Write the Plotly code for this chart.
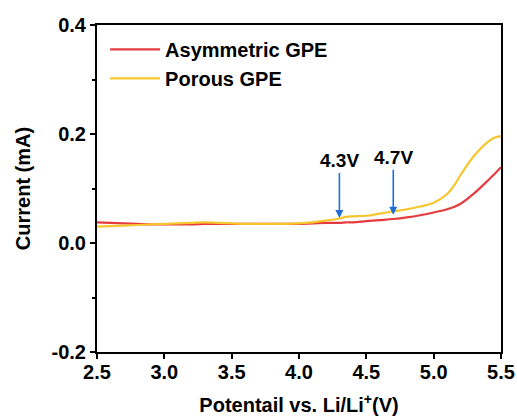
import plotly.graph_objects as go

potential = [2.5, 2.6, 2.7, 2.8, 2.9, 3.0, 3.1, 3.2, 3.3, 3.4, 3.5, 3.6, 3.7, 3.8, 3.9, 4.0,
             4.1, 4.2, 4.3, 4.35, 4.4, 4.5, 4.6, 4.7, 4.8, 4.9, 5.0, 5.1, 5.15, 5.2, 5.3, 5.4, 5.45, 5.5]
asym = [0.038, 0.037, 0.036, 0.035, 0.034, 0.034, 0.034, 0.034, 0.035, 0.035, 0.035, 0.035, 0.035, 0.035, 0.035, 0.035,
        0.036, 0.037, 0.037, 0.038, 0.038, 0.040, 0.042, 0.044, 0.047, 0.051, 0.056, 0.062, 0.066, 0.072, 0.091, 0.114, 0.126, 0.139]
porous = [0.030, 0.031, 0.032, 0.033, 0.034, 0.035, 0.036, 0.037, 0.038, 0.037, 0.036, 0.035, 0.035, 0.035, 0.035, 0.036,
          0.038, 0.041, 0.045, 0.048, 0.049, 0.050, 0.054, 0.058, 0.062, 0.067, 0.074, 0.090, 0.105, 0.125, 0.160, 0.185, 0.193, 0.196]

marks_x = [4.3, 4.7]
marks_y = [0.046, 0.052]
marks_text = ["4.3V", "4.7V"]

x_ticks = [2.5, 3.0, 3.5, 4.0, 4.5, 5.0, 5.5]
y_ticks = [-0.2, 0.0, 0.2, 0.4]

RED = "#E53B3F"
YEL = "#F6C62E"
FONT = "Liberation Sans, Arial, sans-serif"
FS = 20

fig = go.Figure()
fig.add_trace(go.Scatter(x=potential, y=asym, mode="lines", name="<b>Asymmetric GPE</b>",
                         line=dict(color=RED, width=2.2, shape="spline")))
fig.add_trace(go.Scatter(x=potential, y=porous, mode="lines", name="<b>Porous GPE</b>",
                         line=dict(color=YEL, width=2.2, shape="spline")))

for x, y, t in zip(marks_x, marks_y, marks_text):
    fig.add_annotation(x=x, y=y, xref="x", yref="y", text="<b>%s</b>" % t,
                       showarrow=True, arrowhead=2, arrowsize=1, arrowwidth=1.6,
                       arrowcolor="#1E6FD9", ax=0, ay=-57, standoff=0,
                       font=dict(family=FONT, size=19, color="black"))

axis_common = dict(showline=True, linecolor="black", linewidth=2, mirror=True,
                   ticks="outside", ticklen=5, tickwidth=2, tickcolor="black",
                   showgrid=False, zeroline=False,
                   tickfont=dict(family=FONT, size=FS, color="black"),
                   minor=dict(ticks="outside", ticklen=3, tickwidth=2, tickcolor="black", nticks=2))

fig.update_xaxes(range=[2.5, 5.5], tickvals=x_ticks,
                 ticktext=["<b>%.1f</b>" % v for v in x_ticks],
                 ticklabelstandoff=-4,
                 title=dict(text="<b>Potentail vs. Li/Li<sup>+</sup>(V)</b>",
                            font=dict(family=FONT, size=FS, color="black"), standoff=16),
                 **axis_common)
fig.update_yaxes(range=[-0.2, 0.4], tickvals=y_ticks,
                 ticktext=["<b>%.1f</b>" % v for v in y_ticks],
                 title=dict(text="<b>Current (mA)</b>",
                            font=dict(family=FONT, size=FS, color="black"), standoff=16),
                 **axis_common)

fig.update_layout(width=517, height=420, margin=dict(l=97, r=16, t=25, b=68, autoexpand=False),
                  paper_bgcolor="white", plot_bgcolor="white",
                  legend=dict(x=0.02, y=0.985, xanchor="left", yanchor="top",
                              bgcolor="rgba(0,0,0,0)", itemwidth=50, tracegroupgap=0,
                              font=dict(family=FONT, size=FS, color="black")),
                  showlegend=True)

fig.write_html("out.html")
